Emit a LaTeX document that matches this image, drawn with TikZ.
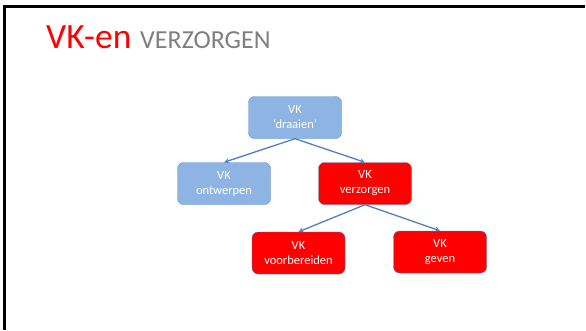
\documentclass[tikz,border=0pt]{standalone}
\usepackage{fontspec}
\setmainfont{Carlito}
\usetikzlibrary{arrows,shapes,positioning}
\usepackage{xcolor}
\definecolor{vkblue}{RGB}{141,180,226}
\definecolor{vkedge}{RGB}{101,141,205}
\definecolor{vkline}{RGB}{79,129,189}
\definecolor{vkred}{RGB}{255,0,0}
\definecolor{vkgray}{RGB}{127,127,127}
\tikzstyle{bluebox} = [draw=vkedge, fill=vkblue, rounded corners=6pt, minimum width=93pt, minimum height=42pt, text=white, align=center, font=\fontsize{12.5}{15}\selectfont]
\tikzstyle{redbox} = [bluebox, draw=vkline, fill=vkred]
\tikzstyle{vkarrow} = [line width=1.3pt,->,>=stealth,color=vkline]

\begin{document}
\begin{tikzpicture}[x=1pt,y=-1pt]
\useasboundingbox (0,0) rectangle (586,330);
% Frame
\draw[line width=3pt] (4.5,330) -- (4.5,6) -- (585,6);

% Title
\node[anchor=base west, inner sep=0pt, text=vkred, font=\fontsize{35.5}{40}\selectfont] (vken) at (46,48) {VK-en};
\node[anchor=base west, inner sep=0pt, text=vkgray, font=\fontsize{26}{30}\selectfont] (verz) at (140,48) {VERZORGEN};

% Boxes
\node[bluebox] (draaien) at (295,117.5) {VK\\‘draaien’};
\node[bluebox] (ontwerpen) at (224,183.5) {VK\\ontwerpen};
\node[redbox] (verzorgen) at (365,183.5) {VK\\verzorgen};
\node[redbox] (voorbereiden) at (298.5,253) {VK\\voorbereiden};
\node[redbox] (geven) at (440,252) {VK\\geven};

% Arrows
\draw[vkarrow] (draaien.south) -- (ontwerpen.north);
\draw[vkarrow] (draaien.south) -- (verzorgen.north);
\draw[vkarrow] (verzorgen.south) -- (voorbereiden.north);
\draw[vkarrow] (verzorgen.south) -- (geven.north);
\end{tikzpicture}
\end{document}
